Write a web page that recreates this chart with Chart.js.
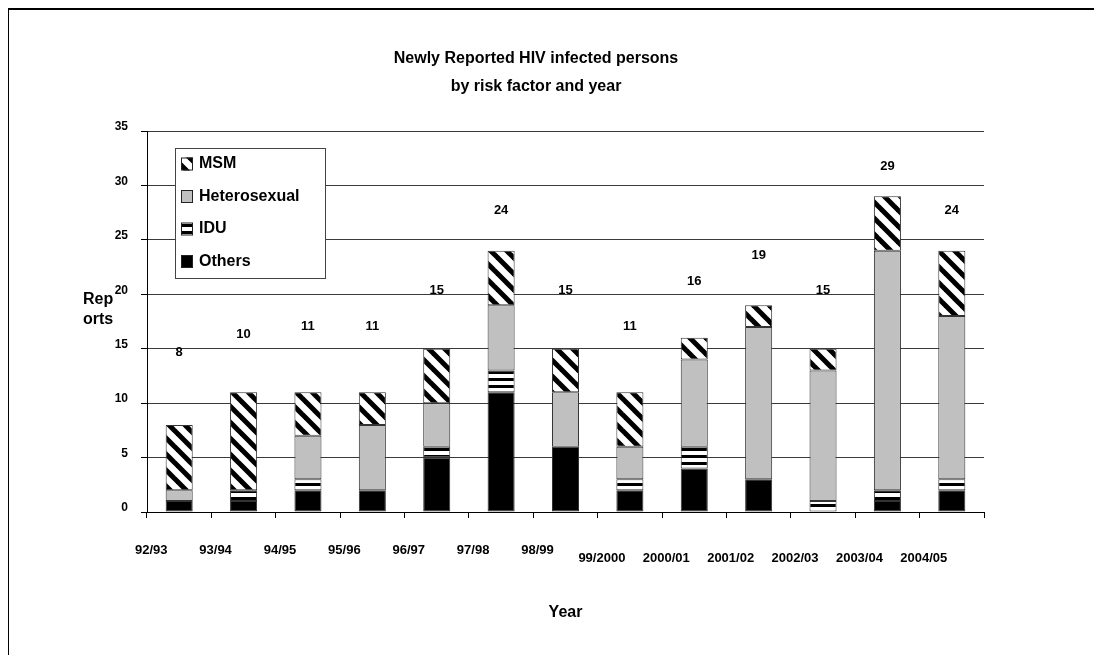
<!DOCTYPE html>
<html>
<head>
<meta charset="utf-8">
<title>Newly Reported HIV infected persons by risk factor and year</title>
<script src="https://cdn.jsdelivr.net/npm/chart.js@4.4.1/dist/chart.umd.min.js"></script>
<style>
  html, body { margin: 0; padding: 0; background: #fff; overflow: hidden; }
  #wrap { position: relative; width: 1094px; height: 655px; }
  #wrap canvas { position: absolute; left: 0; top: 0; }
  #frame {
    position: absolute; left: 8px; top: 8px; width: 1200px; height: 800px;
    border-top: 2px solid #000; border-left: 1px solid #000;
    box-sizing: border-box; pointer-events: none;
  }
</style>
</head>
<body>
<div id="wrap">
  <canvas id="chart" width="1094" height="655"></canvas>
  <div id="frame"></div>
</div>
<script>
// Reporting years
const years = ['92/93', '93/94', '94/95', '95/96', '96/97', '97/98', '98/99',
               '99/2000', '2000/01', '2001/02', '2002/03', '2003/04', '2004/05'];

// Reports per risk factor (stacked bottom to top)
const others       = [1, 1, 2, 2, 5, 11, 6, 2, 4, 3, 0, 1, 2];
const idu          = [0, 1, 1, 0, 1, 2, 0, 1, 2, 0, 1, 1, 1];
const heterosexual = [1, 0, 4, 6, 4, 6, 5, 3, 8, 14, 12, 22, 15];
const msm          = [6, 9, 4, 3, 5, 5, 4, 5, 2, 2, 2, 5, 6];

// Yearly totals shown above the bars
const totals = [8, 10, 11, 11, 15, 24, 15, 11, 16, 19, 15, 29, 24];

// Value axis ticks
const yTicks = [0, 5, 10, 15, 20, 25, 30, 35];

const FONT = "'Liberation Sans', Arial, Helvetica, sans-serif";
Chart.defaults.font.family = FONT;
Chart.defaults.color = '#000';

// Diagonal black/white hatch
function hatchPattern() {
  const c = document.createElement('canvas');
  c.width = 16; c.height = 16;
  const g = c.getContext('2d');
  g.fillStyle = '#fff';
  g.fillRect(0, 0, 16, 16);
  g.strokeStyle = '#000';
  g.lineWidth = 5;
  for (const k of [-16, 0, 16]) {
    g.beginPath();
    g.moveTo(k - 4, -4);
    g.lineTo(k + 20, 20);
    g.stroke();
  }
  return g.createPattern(c, 'repeat');
}

// Horizontal black/white bands
function bandPattern() {
  const c = document.createElement('canvas');
  c.width = 8; c.height = 7;
  const g = c.getContext('2d');
  g.fillStyle = '#fff';
  g.fillRect(0, 0, 8, 7);
  g.fillStyle = '#000';
  g.fillRect(0, 0, 8, 3);
  return g.createPattern(c, 'repeat');
}

const barStyle = {
  borderColor: '#333',
  borderWidth: 1,
  borderSkipped: false,
  barPercentage: 0.42,
  categoryPercentage: 1.0,
  stack: 'risk'
};

// Chart title, horizontal "Reports" label
const headings = {
  id: 'headings',
  afterDraw(chart) {
    const ctx = chart.ctx;
    ctx.save();
    ctx.fillStyle = '#000';
    ctx.textBaseline = 'middle';
    ctx.font = 'bold 16px ' + FONT;
    ctx.textAlign = 'center';
    ctx.fillText('Newly Reported HIV infected persons', 536, 59);
    ctx.fillText('by risk factor and year', 536, 87);
    ctx.textAlign = 'left';
    ctx.fillText('Rep', 83, 300);
    ctx.fillText('orts', 83, 320);
    ctx.restore();
  }
};

// Total labels placed on the hidden totals series
const totalLabels = {
  id: 'totalLabels',
  afterDatasetsDraw(chart) {
    const idx = chart.data.datasets.findIndex(d => d.label === 'Total');
    const meta = chart.getDatasetMeta(idx);
    const ctx = chart.ctx;
    ctx.save();
    ctx.fillStyle = '#000';
    ctx.font = 'bold 13px ' + FONT;
    ctx.textAlign = 'center';
    ctx.textBaseline = 'middle';
    meta.data.forEach((pt, i) => {
      ctx.fillText(String(chart.data.datasets[idx].data[i]), pt.x, pt.y);
    });
    ctx.restore();
  }
};

// Boxed legend inside the plot, top-left
const boxLegend = {
  id: 'boxLegend',
  afterDraw(chart) {
    const ctx = chart.ctx;
    const area = chart.chartArea;
    const left = area.left + 28, top = area.top + 17;
    const w = 150, h = 130, step = 32.5;
    ctx.save();
    ctx.fillStyle = '#fff';
    ctx.fillRect(left, top, w, h);
    ctx.strokeStyle = '#444';
    ctx.lineWidth = 1;
    ctx.strokeRect(left + 0.5, top + 0.5, w, h);
    const items = chart.data.datasets.filter(d => d.label !== 'Total').slice().reverse();
    ctx.font = 'bold 16px ' + FONT;
    ctx.textBaseline = 'middle';
    ctx.textAlign = 'left';
    items.forEach((ds, i) => {
      const cy = top + 16 + i * step;
      ctx.fillStyle = ds.backgroundColor;
      ctx.fillRect(left + 6, cy - 6.5, 12, 13);
      ctx.strokeStyle = '#222';
      ctx.strokeRect(left + 6.5, cy - 6, 11, 12);
      ctx.fillStyle = '#000';
      ctx.fillText(ds.label, left + 24, cy);
    });
    ctx.restore();
  }
};

new Chart(document.getElementById('chart'), {
  type: 'bar',
  data: {
    labels: years,
    datasets: [
      Object.assign({ label: 'Others', data: others, backgroundColor: '#000' }, barStyle),
      Object.assign({ label: 'IDU', data: idu, backgroundColor: bandPattern() }, barStyle),
      Object.assign({ label: 'Heterosexual', data: heterosexual, backgroundColor: '#c0c0c0' }, barStyle),
      Object.assign({ label: 'MSM', data: msm, backgroundColor: hatchPattern() }, barStyle),
      {
        type: 'line',
        label: 'Total',
        data: totals,
        yAxisID: 'y2',
        showLine: false,
        pointRadius: 0,
        pointHoverRadius: 0
      }
    ]
  },
  options: {
    responsive: false,
    animation: false,
    devicePixelRatio: 1,
    layout: { padding: { top: 131, right: 110, left: 0, bottom: 0 } },
    plugins: {
      legend: { display: false },
      title: { display: false },
      tooltip: { enabled: false }
    },
    scales: {
      x: {
        stacked: true,
        offset: true,
        grid: {
          display: true,
          offset: true,
          drawOnChartArea: false,
          drawTicks: true,
          tickLength: 6,
          tickColor: '#000'
        },
        border: { display: true, color: '#000', width: 1 },
        ticks: {
          color: '#000',
          autoSkip: false,
          maxRotation: 0,
          minRotation: 0,
          padding: 28,
          labelOffset: -28,
          font: { size: 13, weight: 'bold', lineHeight: '8px' },
          callback(value, index) {
            const s = this.getLabelForValue(value);
            return index >= 7 ? ['', s] : s;
          }
        },
        title: {
          display: true,
          text: 'Year',
          color: '#000',
          font: { size: 16, weight: 'bold' },
          padding: { top: 0, bottom: 33 }
        },
        afterFit(scale) { scale.height = 143; }
      },
      y: {
        stacked: true,
        min: yTicks[0],
        max: yTicks[yTicks.length - 1],
        afterBuildTicks(scale) { scale.ticks = yTicks.map(v => ({ value: v })); },
        grid: { color: '#3a3a3a', lineWidth: 1, tickLength: 6, tickColor: '#000' },
        border: { display: true, color: '#000', width: 1 },
        ticks: {
          color: '#000',
          padding: 13,
          labelOffset: -4,
          font: { size: 12, weight: 'bold' }
        },
        afterFit(scale) { scale.width = 147; }
      },
      y2: {
        display: false,
        min: -10,
        max: 33
      }
    }
  },
  plugins: [totalLabels, boxLegend, headings]
});
</script>
</body>
</html>
